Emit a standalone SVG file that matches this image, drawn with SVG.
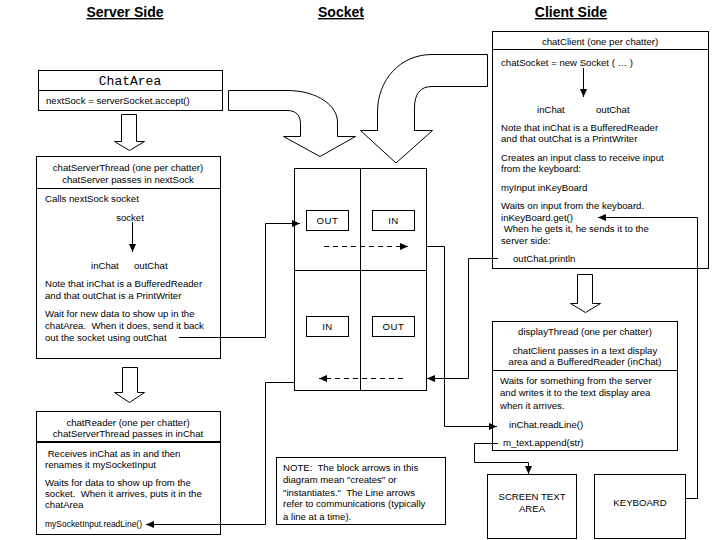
<svg xmlns="http://www.w3.org/2000/svg" width="720" height="540" viewBox="0 0 720 540">
<style>
text{font-family:"Liberation Sans",Arial,sans-serif;font-size:9.6px;fill:#000;white-space:pre}
.h{font-size:14px;font-weight:bold;text-decoration:underline;text-anchor:middle}
.c{text-anchor:middle}
.mono{font-family:"Liberation Mono","Courier New",monospace;font-size:13px}
.box{fill:#fff;stroke:#000;stroke-width:1}
.ln{fill:none;stroke:#000;stroke-width:1}
.dash{fill:none;stroke:#000;stroke-width:1;stroke-dasharray:5,4}
.blk{fill:#fff;stroke:#000;stroke-width:1}
</style>
<defs>
<marker id="ah" viewBox="0 0 8 8" refX="8" refY="4" markerWidth="8" markerHeight="8" markerUnits="userSpaceOnUse" orient="auto">
<path d="M0,0.5 L8,4 L0,7.5 Z" fill="#000"/>
</marker>
</defs>
<rect width="720" height="540" fill="#fff"/>

<g id="headers">
<text class="h" x="125" y="17">Server Side</text>
<text class="h" x="341" y="17">Socket</text>
<text class="h" x="571" y="17">Client Side</text>
</g>

<g id="chatArea">
<rect class="box" x="38.5" y="70.5" width="184" height="40"/>
<line class="ln" x1="38.5" y1="90.5" x2="222.5" y2="90.5"/>
<text class="mono c" x="130" y="85">ChatArea</text>
<text x="46" y="104">nextSock = serverSocket.accept()</text>
</g>

<g id="chatServerThread">
<rect class="box" x="36.5" y="156.5" width="184" height="202"/>
<line class="ln" x1="36.5" y1="188.5" x2="220.5" y2="188.5"/>
<text class="c" x="128" y="171">chatServerThread (one per chatter)</text>
<text class="c" x="128" y="183">chatServer passes in nextSock</text>
<text x="45" y="202">Calls nextSock socket</text>
<text class="c" x="130" y="221">socket</text>
<text x="91" y="269">inChat</text>
<text x="134" y="269">outChat</text>
<text x="45" y="287">Note that inChat is a BufferedReader</text>
<text x="45" y="299">and that outChat is a PrintWriter</text>
<text x="45" y="317">Wait for new data to show up in the</text>
<text x="45" y="329">chatArea.  When it does, send it back</text>
<text x="45" y="341">out the socket using outChat</text>
</g>

<g id="chatReader">
<rect class="box" x="36.5" y="411.5" width="184" height="123"/>
<line x1="36.5" y1="442" x2="220.5" y2="442" stroke="#000" stroke-width="2"/>
<text class="c" x="128" y="426">chatReader (one per chatter)</text>
<text class="c" x="128" y="437">chatServerThread passes in inChat</text>
<text x="45" y="457"> Receives inChat as in and then</text>
<text x="45" y="468">renames it mySocketInput</text>
<text x="45" y="486">Waits for data to show up from the</text>
<text x="45" y="497">socket.  When it arrives, puts it in the</text>
<text x="45" y="508">chatArea</text>
<text x="45" y="527" textLength="97" lengthAdjust="spacingAndGlyphs">mySocketInput.readLine()</text>
</g>

<g id="socket">
<rect class="box" x="294.5" y="168.5" width="132" height="222"/>
<line class="ln" x1="360.5" y1="168.5" x2="360.5" y2="390.5"/>
<line class="ln" x1="294.5" y1="270.5" x2="426.5" y2="270.5"/>
<rect class="box" x="306.5" y="210.5" width="42" height="20"/>
<text class="c" x="327.5" y="224" letter-spacing="0.5">OUT</text>
<rect class="box" x="372.5" y="210.5" width="42" height="20"/>
<text class="c" x="393.5" y="224" letter-spacing="0.5">IN</text>
<rect class="box" x="306.5" y="316.5" width="42" height="20"/>
<text class="c" x="327.5" y="330" letter-spacing="0.5">IN</text>
<rect class="box" x="372.5" y="316.5" width="42" height="20"/>
<text class="c" x="393.5" y="330" letter-spacing="0.5">OUT</text>
</g>

<g id="chatClient">
<rect class="box" x="492.5" y="31.5" width="216" height="237"/>
<line class="ln" x1="492.5" y1="49.5" x2="708.5" y2="49.5"/>
<text class="c" x="600" y="45">chatClient (one per chatter)</text>
<text x="501" y="66">chatSocket = new Socket ( … )</text>
<text x="537" y="113">inChat</text>
<text x="596" y="113">outChat</text>
<text x="501" y="131">Note that inChat is a BufferedReader</text>
<text x="501" y="142">and that outChat is a PrintWriter</text>
<text x="501" y="161">Creates an input class to receive input</text>
<text x="501" y="172">from the keyboard:</text>
<text x="501" y="191">myInput inKeyBoard</text>
<text x="501" y="209">Waits on input from the keyboard.</text>
<text x="501" y="221">inKeyBoard.get()</text>
<text x="501" y="232"> When he gets it, he sends it to the</text>
<text x="501" y="244">server side:</text>
<text x="513" y="262">outChat.println</text>
</g>

<g id="displayThread">
<rect class="box" x="492.5" y="321.5" width="185" height="129"/>
<line class="ln" x1="492.5" y1="370.5" x2="677.5" y2="370.5"/>
<text class="c" x="585" y="335">displayThread (one per chatter)</text>
<text class="c" x="585" y="354">chatClient passes in a text display</text>
<text class="c" x="585" y="365">area and a BufferedReader (inChat)</text>
<text x="500" y="384">Waits for something from the server</text>
<text x="500" y="396">and writes it to the text display area</text>
<text x="500" y="409">when it arrives.</text>
<text x="509" y="428">inChat.readLine()</text>
<text x="503" y="446">m_text.append(str)</text>
</g>

<g id="screenText">
<rect class="box" x="487.5" y="474.5" width="89" height="64"/>
<text class="c" x="532" y="500">SCREEN TEXT</text>
<text class="c" x="532" y="512">AREA</text>
</g>

<g id="keyboard">
<rect class="box" x="594.5" y="474.5" width="91" height="64"/>
<text class="c" x="640" y="506">KEYBOARD</text>
</g>

<g id="note">
<rect class="box" x="276.5" y="457.5" width="169" height="67"/>
<text x="283" y="471">NOTE:  The block arrows in this</text>
<text x="283" y="483">diagram mean "creates" or</text>
<text x="283" y="496">"instantiates."  The Line arrows</text>
<text x="283" y="507">refer to communications (typically</text>
<text x="283" y="520">a line at a time).</text>
</g>

<g id="blockArrows">
<path class="blk" d="M121.5,114.5 L136.5,114.5 L136.5,141.5 L144.5,141.5 L129.5,150.5 L114.5,141.5 L121.5,141.5 Z"/>
<path class="blk" d="M122.5,367.5 L137.5,367.5 L137.5,392.5 L144.5,392.5 L129.5,402.5 L114.5,392.5 L122.5,392.5 Z"/>
<path class="blk" d="M577.5,274.5 L592.5,274.5 L592.5,303.5 L600.5,303.5 L585.5,312.5 L570.5,303.5 L577.5,303.5 Z"/>
<path class="blk" d="M228.5,90.5 L287,90.5 C318,90.5 337.5,106 337.5,122 L337.5,136.5 L355.5,136.5 L320,156.5 L283.5,136.5 L300.5,136.5 L300.5,124 C300.5,115 296,110.5 287,110.5 L228.5,110.5 Z"/>
<path class="blk" d="M487.5,54.5 L432,54.5 C400,54.5 377.5,80 377.5,112 L377.5,130.5 L360.5,130.5 L396,163 L432.5,130.5 L414.5,130.5 L414.5,108 C414.5,94 420,86.5 432,86.5 L487.5,86.5 Z"/>
</g>

<g id="connectors">
<line class="ln" x1="132.5" y1="222" x2="132.5" y2="252" marker-end="url(#ah)"/>
<line class="ln" x1="583.5" y1="68" x2="583.5" y2="97" marker-end="url(#ah)"/>
<polyline class="ln" points="179,337.5 265.5,337.5 265.5,223.5 300,223.5" marker-end="url(#ah)"/>
<line class="dash" x1="324" y1="246.5" x2="408" y2="246.5" marker-end="url(#ah)"/>
<polyline class="ln" points="426.5,246.5 444.5,246.5 444.5,426.5 497,426.5" marker-end="url(#ah)"/>
<polyline class="ln" points="498,258.5 468.5,258.5 468.5,378.5 427,378.5" marker-end="url(#ah)"/>
<line class="dash" x1="403" y1="378.5" x2="319" y2="378.5" marker-end="url(#ah)"/>
<polyline class="ln" points="294.5,382.5 265.5,382.5 265.5,524.5 146,524.5" marker-end="url(#ah)"/>
<polyline class="ln" points="498,443.5 474.5,443.5 474.5,462.5 528.5,462.5 528.5,474" marker-end="url(#ah)"/>
<polyline class="ln" points="685.5,498.5 697.5,498.5 697.5,217.5 598,217.5" marker-end="url(#ah)"/>
</g>
</svg>
